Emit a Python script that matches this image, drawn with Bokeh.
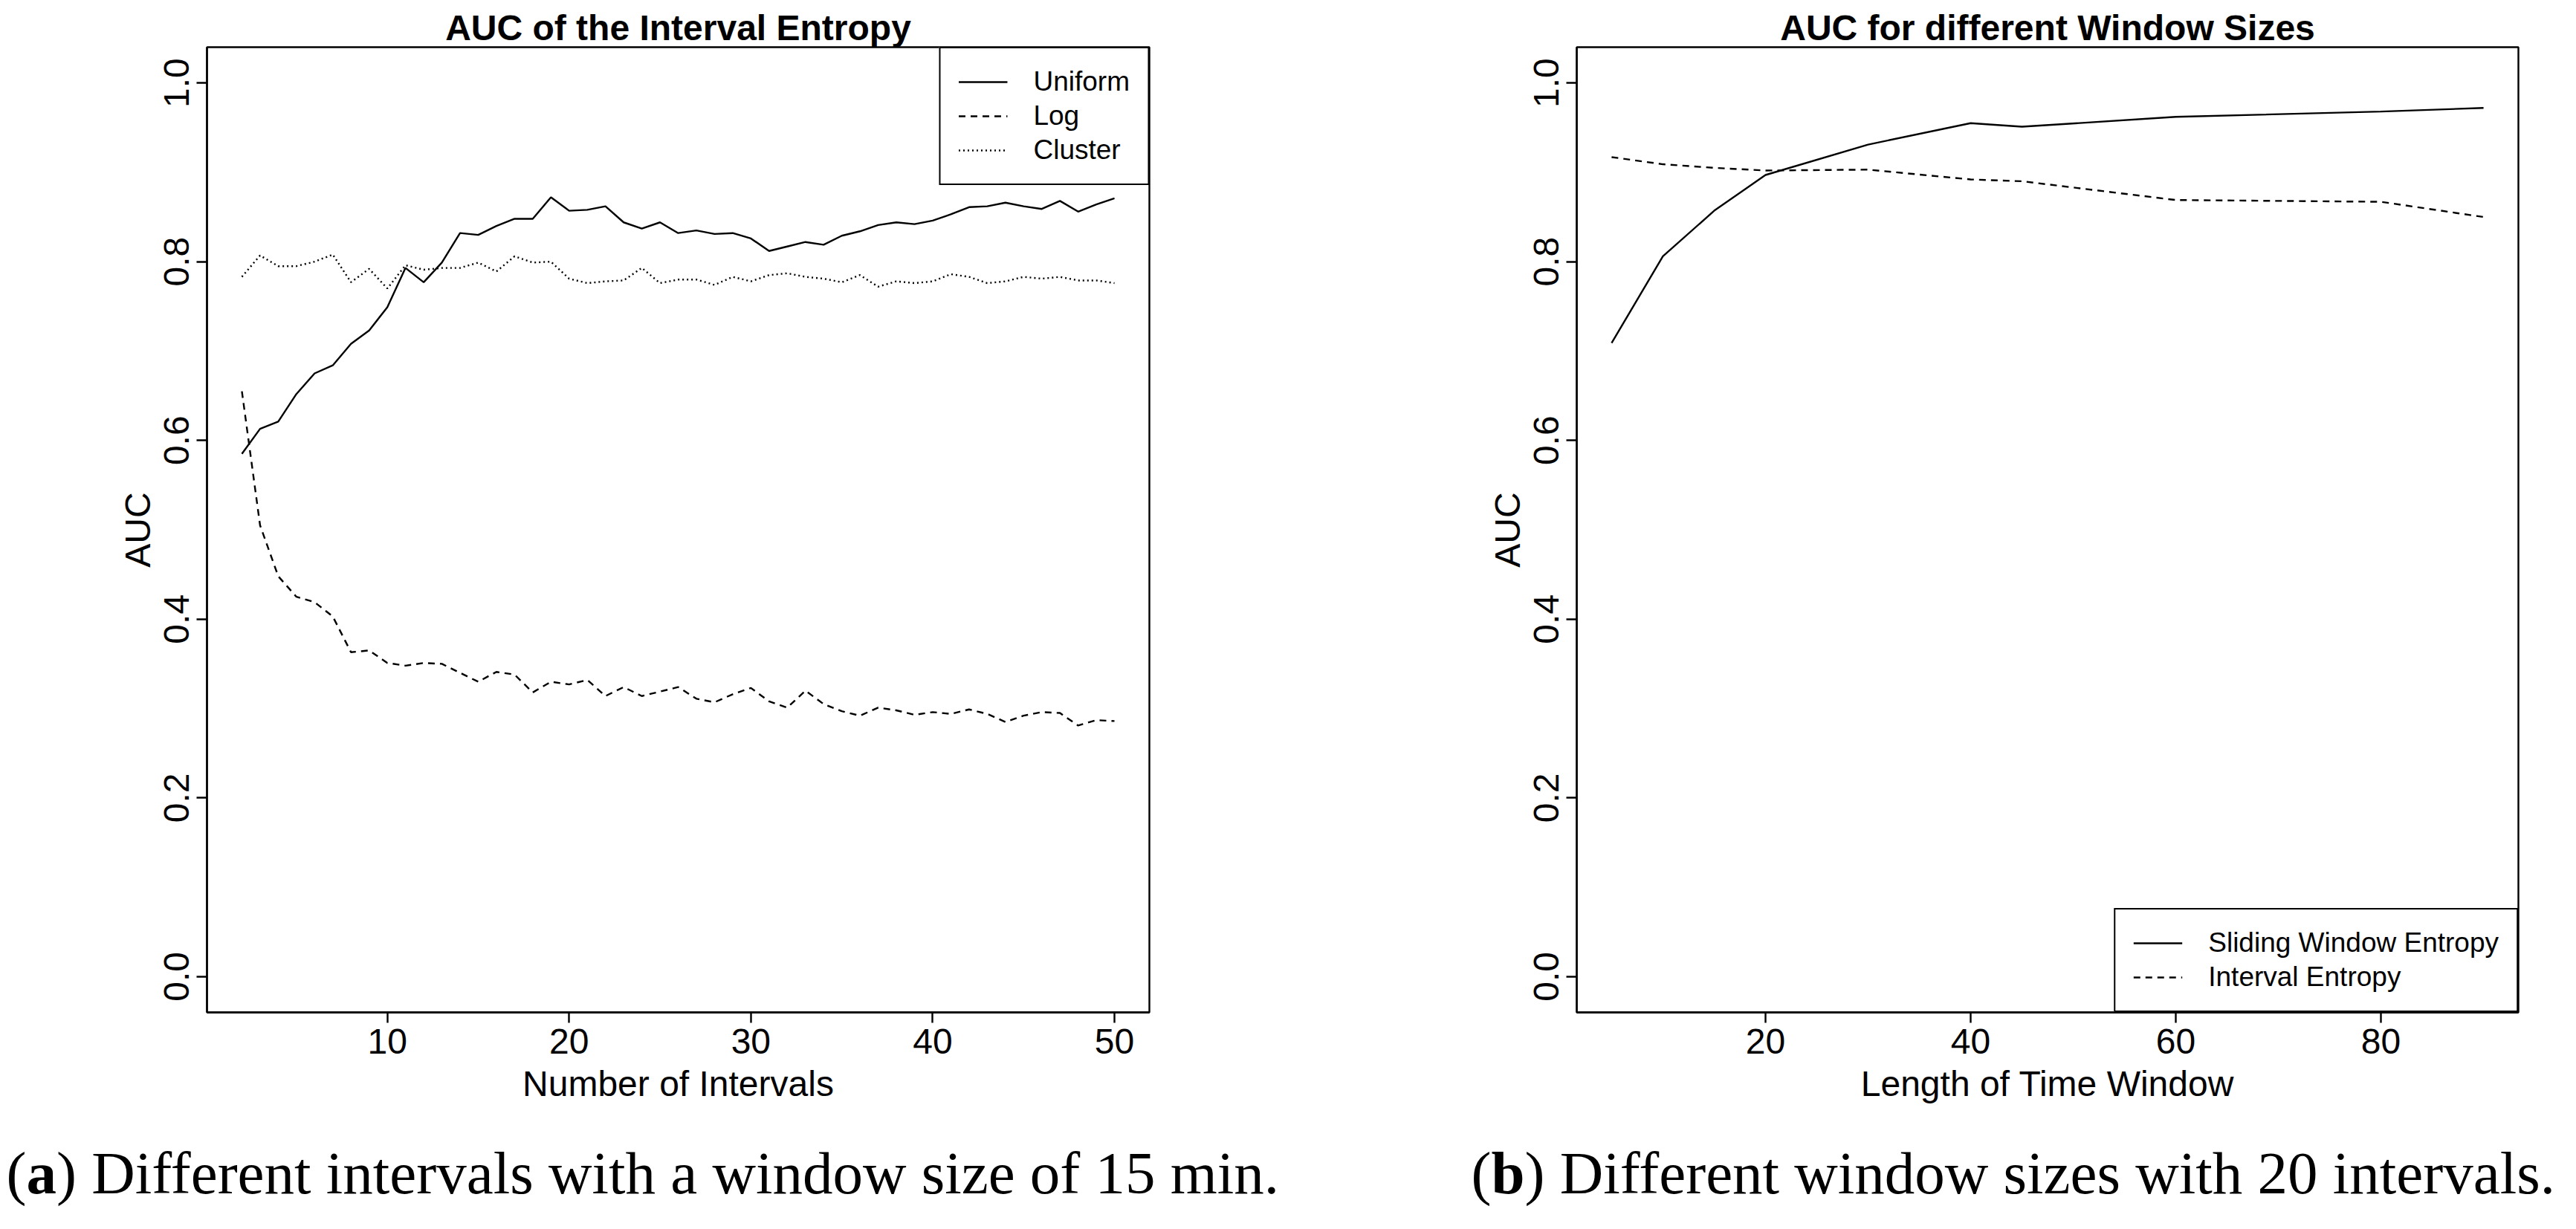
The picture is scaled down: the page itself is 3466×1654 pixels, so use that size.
from bokeh.plotting import figure
from bokeh.models import Range1d, FixedTicker, Legend, LegendItem, NumeralTickFormatter
from bokeh.layouts import column, row
from bokeh.embed import file_html
from bokeh.resources import INLINE
from bokeh.core.properties import value

# ---------------- data ----------------
intervals = list(range(2, 51))
uniform = [0.585, 0.613, 0.621, 0.652, 0.675, 0.684, 0.708, 0.723, 0.749,
           0.793, 0.777, 0.799, 0.832, 0.830, 0.840, 0.848, 0.848, 0.872, 0.857,
           0.858, 0.862, 0.844, 0.837, 0.844, 0.832, 0.835, 0.831, 0.832, 0.826,
           0.812, 0.817, 0.822, 0.819, 0.829, 0.834, 0.841, 0.844, 0.842, 0.846,
           0.853, 0.861, 0.862, 0.866, 0.862, 0.859, 0.868, 0.856, 0.864, 0.871]
log_auc = [0.655, 0.505, 0.448, 0.425, 0.419, 0.403, 0.363, 0.365, 0.351,
           0.348, 0.351, 0.350, 0.340, 0.330, 0.341, 0.338, 0.318, 0.330, 0.327,
           0.332, 0.314, 0.324, 0.314, 0.319, 0.324, 0.311, 0.307, 0.316, 0.323,
           0.308, 0.301, 0.320, 0.305, 0.297, 0.292, 0.301, 0.298, 0.293, 0.296,
           0.294, 0.299, 0.294, 0.285, 0.292, 0.296, 0.295, 0.281, 0.287, 0.286]
cluster = [0.783, 0.807, 0.795, 0.795, 0.800, 0.808, 0.777, 0.792, 0.770,
           0.796, 0.791, 0.793, 0.793, 0.799, 0.789, 0.806, 0.799, 0.800, 0.781,
           0.776, 0.778, 0.779, 0.793, 0.776, 0.780, 0.780, 0.774, 0.783, 0.778,
           0.785, 0.787, 0.783, 0.781, 0.777, 0.785, 0.772, 0.778, 0.776, 0.778,
           0.786, 0.783, 0.776, 0.778, 0.783, 0.781, 0.783, 0.779, 0.779, 0.776]

windows = [5, 10, 15, 20, 30, 40, 45, 60, 80, 90]
sliding = [0.709, 0.806, 0.857, 0.897, 0.931, 0.955, 0.951, 0.962, 0.968, 0.972]
interval_entropy = [0.917, 0.909, 0.905, 0.902, 0.903, 0.892, 0.890, 0.869, 0.867, 0.850]

left_xticks = [10, 20, 30, 40, 50]
right_xticks = [20, 40, 60, 80]
yticks = [0.0, 0.2, 0.4, 0.6, 0.8, 1.0]

titles = ["AUC of the Interval Entropy", "AUC for different Window Sizes"]
xlabels = ["Number of Intervals", "Length of Time Window"]
ylabel = "AUC"
left_names = ["Uniform", "Log", "Cluster"]
right_names = ["Sliding Window Entropy", "Interval Entropy"]
caption_tags = ["a", "b"]
caption_texts = [") Different intervals with a window size of 15 min.",
                 ") Different window sizes with 20 intervals."]

# ---------------- style ----------------
SANS = "Liberation Sans"
SERIF = "Liberation Serif"
LW = 2.4
DASHED = "9 7"
DOTTED = "2 4"
PANEL_H = 1512


def make_panel(width, mb_left, mb_right, xr, xticks, title, xlabel):
    p = figure(width=width, height=PANEL_H, x_range=xr, y_range=Range1d(-0.04, 1.04),
               toolbar_location=None, output_backend="svg",
               min_border_left=mb_left, min_border_right=mb_right,
               min_border_top=63, min_border_bottom=150)
    p.title.text = title
    p.title.text_font = SANS
    p.title.text_font_size = "48px"
    p.title.text_font_style = "bold"
    p.title.text_color = "black"
    p.title.align = "center"
    p.title.standoff = 0
    p.grid.visible = False
    p.outline_line_color = "black"
    p.outline_line_width = 2.4
    p.outline_line_alpha = 1
    p.background_fill_color = "white"
    p.border_fill_color = "white"
    for ax in p.axis:
        ax.axis_line_width = 2.4
        ax.major_tick_line_width = 2.4
        ax.major_tick_out = 14
        ax.major_tick_in = 0
        ax.minor_tick_out = 0
        ax.minor_tick_in = 0
        ax.major_label_text_font = SANS
        ax.major_label_text_font_size = "48px"
        ax.major_label_text_color = "black"
        ax.axis_label_text_font = SANS
        ax.axis_label_text_font_size = "48px"
        ax.axis_label_text_font_style = "normal"
        ax.axis_label_text_color = "black"
    p.xaxis.ticker = FixedTicker(ticks=xticks)
    p.xaxis.major_label_standoff = 8
    p.xaxis.axis_label = xlabel
    p.xaxis.axis_label_standoff = 11
    p.yaxis.ticker = FixedTicker(ticks=yticks)
    p.yaxis.formatter = NumeralTickFormatter(format="0.0")
    p.yaxis.major_label_orientation = "vertical"
    p.yaxis.major_label_standoff = 10
    p.yaxis.axis_label = ylabel
    p.yaxis.axis_label_standoff = 7
    return p


def style_legend(lg, location):
    lg.location = location
    lg.margin = 0
    lg.padding = 24
    lg.spacing = 4
    lg.glyph_width = 66
    lg.glyph_height = 40
    lg.label_height = 40
    lg.label_standoff = 35
    lg.label_text_font = SANS
    lg.label_text_font_size = "37px"
    lg.label_text_color = "black"
    lg.border_line_color = "black"
    lg.border_line_width = 2.4
    lg.border_line_alpha = 1
    lg.background_fill_color = "white"
    lg.background_fill_alpha = 1


# ---------------- left panel ----------------
p1 = make_panel(1842, 278, 296, Range1d(0.08, 51.92), left_xticks, titles[0], xlabels[0])
r_u = p1.line(intervals, uniform, line_color="black", line_width=LW)
r_l = p1.line(intervals, log_auc, line_color="black", line_width=LW, line_dash=DASHED)
r_c = p1.line(intervals, cluster, line_color="black", line_width=LW, line_dash=DOTTED)
lg1 = Legend(items=[LegendItem(label=left_names[0], renderers=[r_u]),
                    LegendItem(label=left_names[1], renderers=[r_l]),
                    LegendItem(label=left_names[2], renderers=[r_c])])
style_legend(lg1, "top_right")
p1.add_layout(lg1)

# ---------------- right panel ----------------
p2 = make_panel(1608, 279, 62, Range1d(1.6, 93.4), right_xticks, titles[1], xlabels[1])
r_s = p2.line(windows, sliding, line_color="black", line_width=LW)
r_i = p2.line(windows, interval_entropy, line_color="black", line_width=LW, line_dash=DASHED)
lg2 = Legend(items=[LegendItem(label=right_names[0], renderers=[r_s]),
                    LegendItem(label=right_names[1], renderers=[r_i])])
style_legend(lg2, "bottom_right")
p2.add_layout(lg2)

# ---------------- captions ----------------
CAP_W, CAP_H = 3450, 116
FS = 81
cap = figure(width=CAP_W, height=CAP_H, x_range=Range1d(0, CAP_W), y_range=Range1d(0, CAP_H),
             toolbar_location=None, output_backend="svg", x_axis_type=None, y_axis_type=None,
             min_border=0, title=None)
cap.grid.visible = False
cap.outline_line_color = None
cap.background_fill_color = "white"
cap.border_fill_color = "white"
starts = [8, 1979]
tag_w = [0.5 * FS, 0.556 * FS]
paren_w = 0.333 * FS
mid_y = 50
for i in range(2):
    x0 = starts[i]
    cap.text(x=[x0], y=[mid_y], text=["("], text_font=value(SERIF),
             text_font_size=f"{FS}px", text_baseline="middle", text_color="black")
    cap.text(x=[x0 + paren_w], y=[mid_y], text=[caption_tags[i]], text_font=value(SERIF),
             text_font_size=f"{FS}px", text_font_style="bold", text_baseline="middle",
             text_color="black")
    cap.text(x=[x0 + paren_w + tag_w[i]], y=[mid_y], text=[caption_texts[i]],
             text_font=value(SERIF), text_font_size=f"{FS}px", text_baseline="middle",
             text_color="black")

layout = column(row(p1, p2), cap)
open("out.html", "w").write(file_html(layout, INLINE))
